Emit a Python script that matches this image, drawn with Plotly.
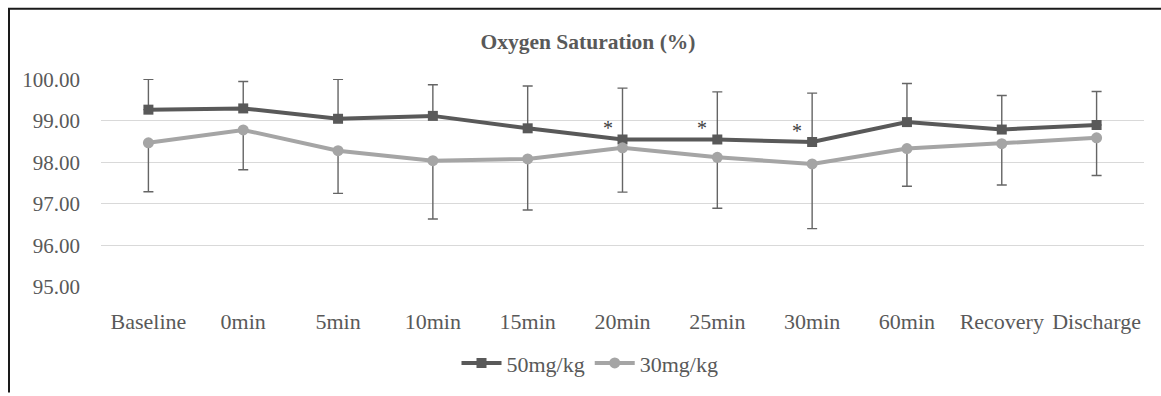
import plotly.graph_objects as go

categories = ["Baseline", "0min", "5min", "10min", "15min", "20min", "25min",
              "30min", "60min", "Recovery", "Discharge"]
dose50_mean = [99.27, 99.30, 99.05, 99.12, 98.82, 98.55, 98.55, 98.49, 98.97, 98.79, 98.90]
dose50_err_plus = [0.73, 0.65, 0.95, 0.75, 1.02, 1.24, 1.15, 1.18, 0.93, 0.82, 0.81]
dose30_mean = [98.47, 98.78, 98.28, 98.04, 98.08, 98.35, 98.12, 97.96, 98.33, 98.45, 98.59]
dose30_err_minus = [1.18, 0.96, 1.03, 1.41, 1.23, 1.07, 1.23, 1.56, 0.91, 1.00, 0.91]
significant = ["20min", "25min", "30min"]
y_ticks = [95, 96, 97, 98, 99, 100]

FONT = "Palatino Linotype, Book Antiqua, Palatino, Liberation Serif, serif"
TXT = "#595959"

fig = go.Figure()
fig.add_trace(go.Scatter(
    x=categories, y=dose50_mean, name="50mg/kg", mode="lines+markers",
    line=dict(color="#595959", width=4),
    marker=dict(symbol="square", size=10, color="#595959"),
    error_y=dict(type="data", array=dose50_err_plus,
                 arrayminus=[0] * len(dose50_err_plus), symmetric=False,
                 color="#656565", thickness=1.4, width=5),
))
fig.add_trace(go.Scatter(
    x=categories, y=dose30_mean, name="30mg/kg", mode="lines+markers",
    line=dict(color="#a5a5a5", width=4),
    marker=dict(symbol="circle", size=11, color="#a5a5a5"),
    error_y=dict(type="data", array=[0] * len(dose30_err_minus),
                 arrayminus=dose30_err_minus, symmetric=False,
                 color="#656565", thickness=1.4, width=5),
))

for c in significant:
    i = categories.index(c)
    fig.add_annotation(x=c, y=dose50_mean[i], text="*", showarrow=False,
                       xshift=-15, yshift=11,
                       font=dict(family=FONT, size=20, color="#404040"))

# outer chart border (partially cropped in the reference)
L, R, T, B = 101, 1144, 79, 292
def px_x(p):
    return (p - L) / (R - L)
def px_y(p):
    return (B - p) / (B - T)
fig.add_shape(type="path", xref="paper", yref="paper",
              path=f"M {px_x(9)} {px_y(400)} L {px_x(9)} {px_y(7)} L {px_x(1170)} {px_y(7)}",
              line=dict(color="#1a1a1a", width=2))

fig.update_layout(
    width=1161, height=396,
    margin=dict(l=L, r=1161 - R, t=T, b=396 - B),
    paper_bgcolor="white", plot_bgcolor="white",
    font=dict(family=FONT, size=21, color=TXT),
    title=dict(text="<b>Oxygen Saturation (%)</b>", xref="container",
               x=588 / 1161, xanchor="center",
               yref="container", y=1 - 41 / 396, yanchor="middle",
               font=dict(family=FONT, size=21.5, color=TXT)),
    showlegend=True,
    legend=dict(orientation="h", x=px_x(590), xanchor="center",
                y=px_y(370), yanchor="middle",
                font=dict(family=FONT, size=22, color=TXT),
                itemwidth=40, bgcolor="rgba(0,0,0,0)"),
    xaxis=dict(type="category", range=[-0.5, 10.5], showgrid=False,
               showline=False, zeroline=False, ticks="",
               ticklabelstandoff=19, tickfont=dict(family=FONT, size=22, color=TXT)),
    yaxis=dict(range=[94.99, 100.01], tickvals=y_ticks, tickformat=".2f",
               showgrid=True, gridcolor="#d9d9d9", gridwidth=1.3,
               zeroline=False, showline=False, ticks="",
               ticklabelstandoff=20, tickfont=dict(family=FONT, size=21, color=TXT)),
)

fig.write_html("out.html")
